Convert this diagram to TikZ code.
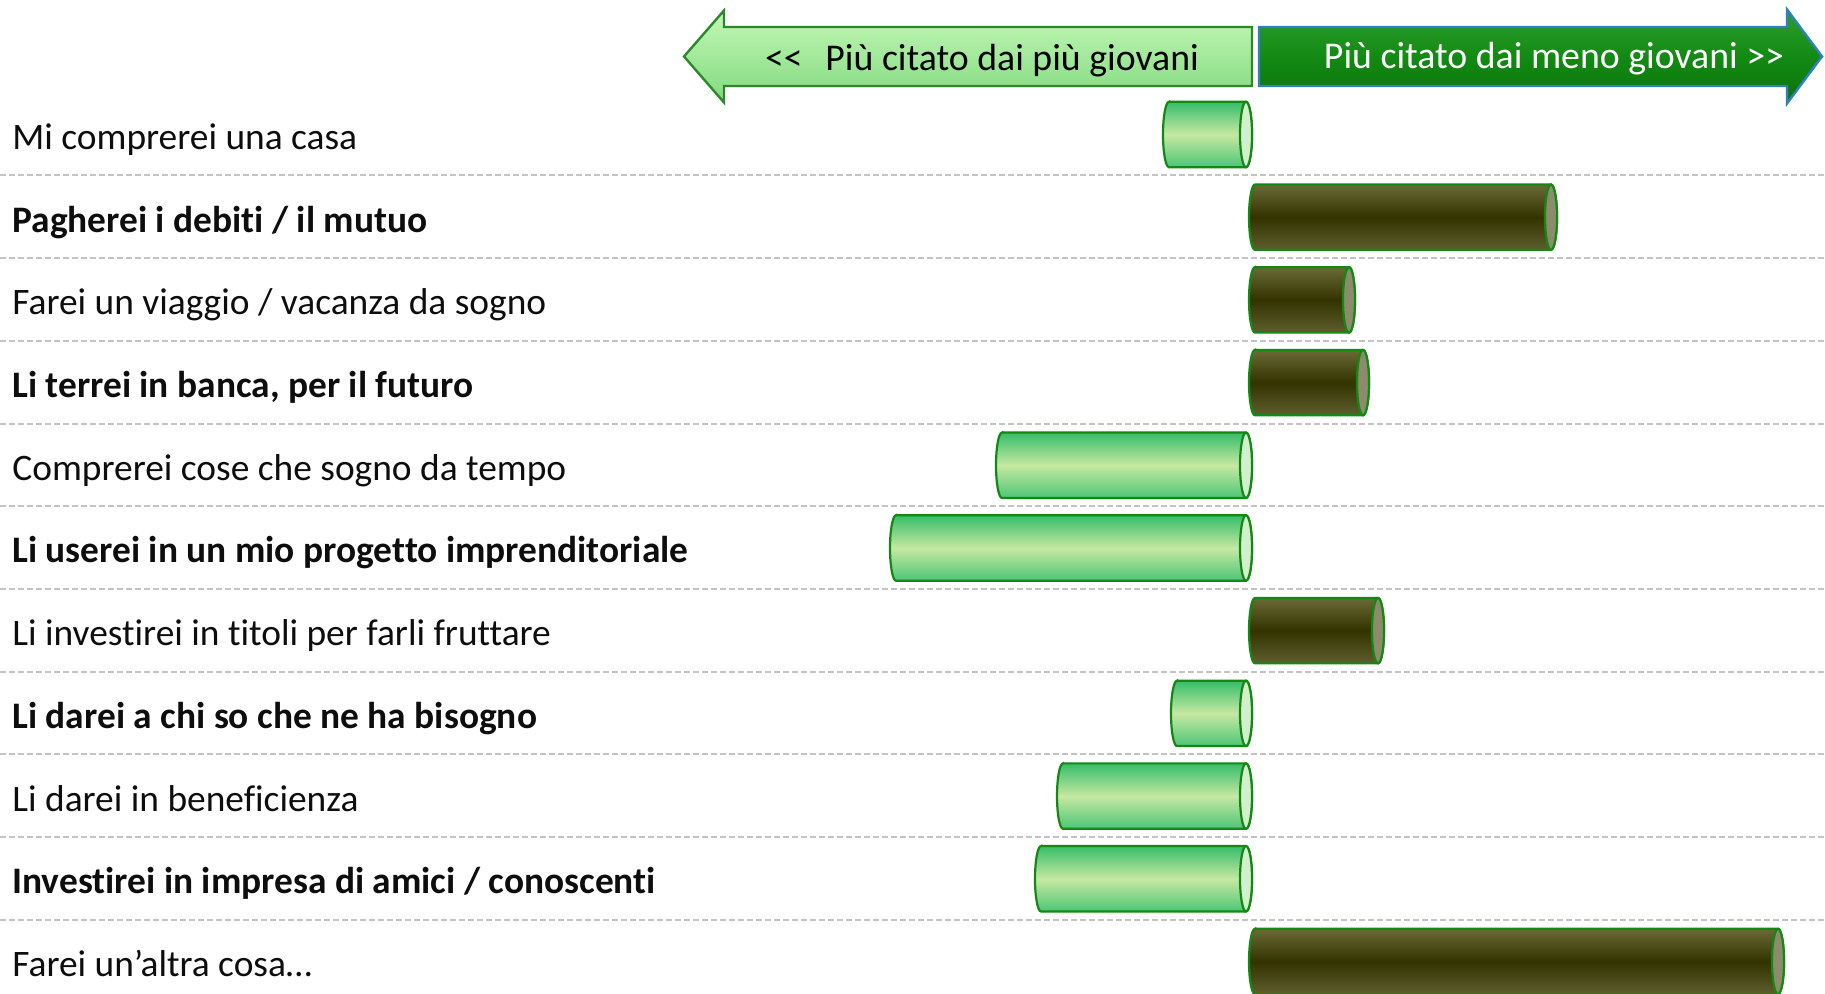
\documentclass[tikz,border=0pt]{standalone}
\usepackage{fontspec}
\setmainfont{Carlito}[Ligatures=NoCommon]
\usepackage{tikz}
\usetikzlibrary{calc}
\definecolor{barline}{HTML}{138913}
\definecolor{greentop}{HTML}{35BD6A}
\definecolor{greenmid}{HTML}{C6E8A2}
\definecolor{greenbot}{HTML}{4CC676}
\definecolor{greencap}{HTML}{D2F0CE}
\definecolor{darktop}{HTML}{6A6A36}
\definecolor{darkmid}{HTML}{333300}
\definecolor{darkbot}{HTML}{5E5E2E}
\definecolor{darkcap}{HTML}{8C8C6C}
\definecolor{gridgrey}{HTML}{C3C3C3}
\definecolor{labeltext}{HTML}{0D0D0D}
\definecolor{youngtop}{HTML}{C4F7B6}
\definecolor{youngbot}{HTML}{82DA80}
\definecolor{youngline}{HTML}{2A8A2A}
\definecolor{oldtop}{HTML}{2E9E2E}
\definecolor{oldmid}{HTML}{138A13}
\definecolor{oldbot}{HTML}{0B720B}
\definecolor{oldline}{HTML}{2F80C0}

\newcommand{\cylbar}[5]{%
	\pgfmathsetmacro{\yc}{859.5-82.7*#3}%
	\shadedraw[#1] (#4+6,\yc+32.7) -- (#5-6,\yc+32.7)
		arc[start angle=90,end angle=-90,x radius=3pt,y radius=16.35pt]
		-- (#4+6,\yc-32.7)
		arc[start angle=270,end angle=90,x radius=3pt,y radius=16.35pt] -- cycle;
	\filldraw[draw=barline,line width=1.1pt,fill=#2] (#5-6,\yc) ellipse[x radius=3pt,y radius=16.35pt];
}

\begin{document}
\begin{tikzpicture}[x=0.5pt,y=0.5pt,
		lbl/.style={anchor=base west,inner sep=0pt,text=labeltext,font=\fontsize{18.7pt}{22pt}\selectfont},
		lblbold/.style={lbl,font=\fontsize{18.7pt}{22pt}\selectfont\bfseries},
		headtext/.style={anchor=base,inner sep=0pt,font=\fontsize{18.9pt}{22pt}\selectfont},
		greencyl/.style={draw=barline,line width=1.1pt,top color=greentop,bottom color=greenbot,middle color=greenmid},
		darkcyl/.style={draw=barline,line width=1.1pt,top color=darktop,bottom color=darkbot,middle color=darkmid},
		gridline/.style={draw=gridgrey,line width=1pt,dash pattern=on 3pt off 1.5pt},
		youngarrow/.style={draw=youngline,line width=1.2pt,top color=youngtop,bottom color=youngbot},
		oldarrow/.style={draw=oldline,line width=1.2pt,top color=oldtop,bottom color=oldbot,middle color=oldmid}]
	\useasboundingbox (0,0) rectangle (1825,994);

	\shadedraw[youngarrow] (684,937.5) -- (724,983.5) -- (724,967) -- (1252,967) -- (1252,908) -- (724,908) -- (724,891.5) -- cycle;
	\shadedraw[oldarrow] (1822,937.5) -- (1787,984.5) -- (1787,967) -- (1259,967) -- (1259,908) -- (1787,908) -- (1787,890.5) -- cycle;
	\node[headtext,text=black] (young) at (982,923) {<\kern0pt<\hspace{0.6em}Più citato dai più giovani};
	\node[headtext,text=white] (old) at (1554,925) {Più citato dai meno giovani >\kern0pt>};

	\draw[gridline] (0,818.5) -- (1825,818.5);
	\draw[gridline] (0,735.8) -- (1825,735.8);
	\draw[gridline] (0,653.1) -- (1825,653.1);
	\draw[gridline] (0,570.4) -- (1825,570.4);
	\draw[gridline] (0,487.7) -- (1825,487.7);
	\draw[gridline] (0,405.0) -- (1825,405.0);
	\draw[gridline] (0,322.3) -- (1825,322.3);
	\draw[gridline] (0,239.6) -- (1825,239.6);
	\draw[gridline] (0,156.9) -- (1825,156.9);
	\draw[gridline] (0,74.2) -- (1825,74.2);

	\node[lbl] (casa) at (12,844.5) {Mi comprerei una casa};
	\node[lblbold] (debiti) at (12,761.8) {Pagherei i debiti / il mutuo};
	\node[lbl] (viaggio) at (12,679.1) {Farei un viaggio / vacanza da sogno};
	\node[lblbold] (banca) at (12,596.4) {Li terrei in banca, per il futuro};
	\node[lbl] (cose) at (12,513.7) {Comprerei cose che sogno da tempo};
	\node[lblbold] (progetto) at (12,431.0) {Li userei in un mio progetto imprenditoriale};
	\node[lbl] (titoli) at (12,348.3) {Li investirei in titoli per farli fruttare};
	\node[lblbold] (bisogno) at (12,265.6) {Li darei a chi so che ne ha bisogno};
	\node[lbl] (beneficienza) at (12,182.9) {Li darei in beneficienza};
	\node[lblbold] (amici) at (12,100.2) {Investirei in impresa di amici / conoscenti};
	\node[lbl] (altro) at (12,17.5) {Farei un’altra cosa…};

	\cylbar{greencyl}{greencap}{0}{1163}{1252}
	\cylbar{darkcyl}{darkcap}{1}{1249}{1557}
	\cylbar{darkcyl}{darkcap}{2}{1249}{1355}
	\cylbar{darkcyl}{darkcap}{3}{1249}{1369}
	\cylbar{greencyl}{greencap}{4}{996}{1252}
	\cylbar{greencyl}{greencap}{5}{890}{1252}
	\cylbar{darkcyl}{darkcap}{6}{1249}{1384}
	\cylbar{greencyl}{greencap}{7}{1171}{1252}
	\cylbar{greencyl}{greencap}{8}{1057}{1252}
	\cylbar{greencyl}{greencap}{9}{1035}{1252}
	\cylbar{darkcyl}{darkcap}{10}{1249}{1784}
\end{tikzpicture}
\end{document}
